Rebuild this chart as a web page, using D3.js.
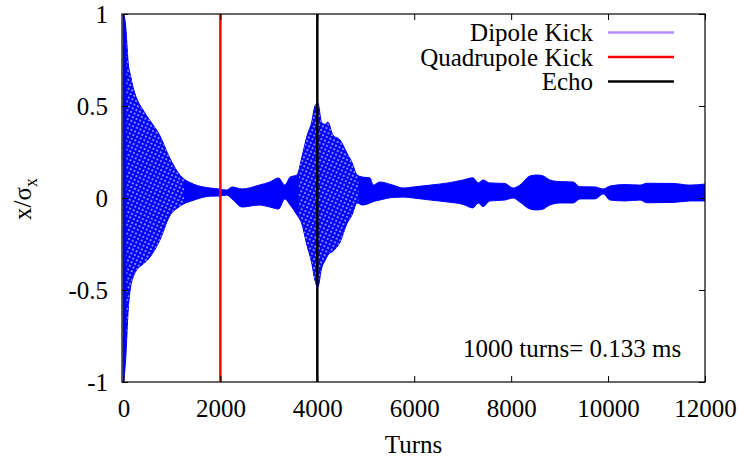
<!DOCTYPE html>
<html>
<head>
<meta charset="utf-8">
<script src="https://cdn.jsdelivr.net/npm/d3@7/dist/d3.min.js"></script>
<style>
  html, body { margin: 0; padding: 0; background: #fff; }
  svg { display: block; }
</style>
</head>
<body>
<svg id="chart" width="739" height="458"></svg>
<script>
// Turn-by-turn centroid envelope (x / sigma_x): upper and lower extent of the
// oscillation at each sampled turn.
const turns = [0, 40, 100, 150, 200, 275, 400, 550, 750, 950, 1150, 1450, 1800, 2000,
  2130, 2240, 2450, 2800, 3020, 3200, 3330, 3440, 3580, 3680, 3780, 3890, 3950, 4010,
  4090, 4160, 4220, 4320, 4470, 4610, 4720, 4820, 4930, 5090, 5150, 5290, 5560, 5770,
  5980, 6330, 6700, 7010, 7210, 7320, 7420, 7560, 7870, 8040, 8180, 8390, 8530, 8660,
  8800, 9010, 9280, 9420, 9730, 9900, 10040, 10350, 10660, 10800, 11340, 11690, 12000];
const upper = [1.0, 0.95, 0.73, 0.66, 0.6, 0.54, 0.48, 0.42, 0.34, 0.22, 0.13, 0.075, 0.054, 0.048,
  0.043, 0.06, 0.049, 0.07, 0.087, 0.109, 0.07, 0.114, 0.125, 0.22, 0.33, 0.42, 0.5, 0.518,
  0.41, 0.4, 0.413, 0.342, 0.315, 0.245, 0.19, 0.125, 0.114, 0.109, 0.07, 0.087, 0.07, 0.054,
  0.06, 0.07, 0.082, 0.098, 0.11, 0.082, 0.098, 0.082, 0.079, 0.054, 0.07, 0.12, 0.125, 0.12,
  0.098, 0.089, 0.087, 0.061, 0.06, 0.049, 0.065, 0.073, 0.07, 0.08, 0.079, 0.07, 0.076];
const lower = [-1.0, -0.9, -0.6, -0.48, -0.43, -0.39, -0.36, -0.32, -0.23, -0.1, -0.047, -0.012, 0.01, 0.011,
  0.016, -0.005, -0.049, -0.038, -0.049, -0.06, -0.005, -0.038, -0.092, -0.14, -0.25, -0.36, -0.446, -0.484,
  -0.38, -0.34, -0.31, -0.29, -0.24, -0.14, -0.09, -0.027, -0.038, -0.027, -0.02, -0.011, 0.003, 0.005,
  0, -0.011, -0.022, -0.035, -0.054, -0.027, -0.047, -0.016, -0.011, 0, -0.022, -0.06, -0.065, -0.06,
  -0.038, -0.027, -0.027, -0.005, -0.005, 0.022, -0.011, -0.016, -0.011, -0.026, -0.024, -0.016, -0.016];

// Turn ranges of the large decoherence / echo lobes
const lobeStart = [60, 3620];
const lobeEnd = [1250, 4850];

// Kick / echo markers
const markerNames = ["Dipole Kick", "Quadrupole Kick", "Echo"];
const markerTurns = [0, 2000, 4000];
const markerColors = ["#b48cff", "#ff0000", "#000000"];

// Axis ticks
const xTicks = [0, 2000, 4000, 6000, 8000, 10000, 12000];
const yTicks = [-1, -0.5, 0, 0.5, 1];
const yTickLabels = ["-1", "-0.5", "0", "0.5", "1"];

const note = "1000 turns= 0.133 ms";

const FONT = "'Liberation Serif', 'DejaVu Serif', serif";
const fontSize = 25;
const BLUE = "#0000ff";

const svg = d3.select("#chart").style("font-family", FONT);
const plotL = 122, plotR = 705, plotT = 14, plotB = 382;

const x = d3.scaleLinear().domain([-30, 12000]).range([plotL, plotR]);
const y = d3.scaleLinear().domain([-1, 1]).range([plotB, plotT]);

const defs = svg.append("defs");
defs.append("clipPath").attr("id", "plotclip")
  .append("rect").attr("x", plotL).attr("y", plotT)
  .attr("width", plotR - plotL).attr("height", plotB - plotT);

// Speckled fill: the point cloud of the large lobes leaves small gaps
const pat = defs.append("pattern").attr("id", "speckle")
  .attr("patternUnits", "userSpaceOnUse").attr("width", 4).attr("height", 4)
  .attr("patternTransform", "rotate(25)");
pat.append("rect").attr("width", 4).attr("height", 4).attr("fill", BLUE);
pat.append("circle").attr("cx", 2).attr("cy", 2).attr("r", 0.85).attr("fill", "#fff");

const lobeClip = defs.append("clipPath").attr("id", "lobeclip");
lobeStart.forEach((s, i) => {
  lobeClip.append("rect").attr("x", x(s)).attr("y", plotT)
    .attr("width", x(lobeEnd[i]) - x(s)).attr("height", plotB - plotT);
});

const plot = svg.append("g").attr("clip-path", "url(#plotclip)");

const markerLine = i => plot.append("line")
  .attr("x1", x(markerTurns[i])).attr("x2", x(markerTurns[i]))
  .attr("y1", plotT).attr("y2", plotB)
  .attr("stroke", markerColors[i]).attr("stroke-width", 2.5);

// dipole marker sits under the signal
markerLine(0);

const env = turns.map((t, i) => ({ t, hi: upper[i], lo: lower[i] }));
const area = d3.area()
  .x(d => x(d.t))
  .y0(d => y(d.lo))
  .y1(d => y(d.hi))
  .curve(d3.curveMonotoneX);

plot.append("path")
  .datum(env)
  .attr("d", area)
  .attr("fill", BLUE)
  .attr("stroke", BLUE)
  .attr("stroke-width", 1)
  .attr("stroke-linejoin", "round");

plot.append("g").attr("clip-path", "url(#lobeclip)")
  .append("path")
  .datum(env)
  .attr("d", area)
  .attr("fill", "url(#speckle)")
  .attr("stroke", "none");

markerLine(1);
markerLine(2);

// Axes with inward ticks on all four sides
const gx = svg.append("g").attr("transform", `translate(0,${plotB})`)
  .call(d3.axisBottom(x).tickValues(xTicks).tickSizeInner(-6).tickSizeOuter(0).tickPadding(18)
    .tickFormat(d3.format("d")));
const gxTop = svg.append("g").attr("transform", `translate(0,${plotT})`)
  .call(d3.axisTop(x).tickValues(xTicks).tickSizeInner(-6).tickSizeOuter(0).tickFormat(""));
const gy = svg.append("g").attr("transform", `translate(${plotL},0)`)
  .call(d3.axisLeft(y).tickValues(yTicks).tickSizeInner(-6).tickSizeOuter(0).tickPadding(14)
    .tickFormat((d, i) => yTickLabels[i]));
const gyRight = svg.append("g").attr("transform", `translate(${plotR},0)`)
  .call(d3.axisRight(y).tickValues(yTicks).tickSizeInner(-6).tickSizeOuter(0).tickFormat(""));

[gx, gxTop, gy, gyRight].forEach(g => {
  g.attr("font-family", FONT).attr("font-size", fontSize);
  g.select(".domain").remove();
  g.selectAll(".tick line").attr("stroke", "#000").attr("stroke-width", 1);
  g.selectAll("text").style("font-family", FONT).attr("font-size", fontSize).attr("fill", "#000");
});
gx.selectAll("text").attr("dy", "0.68em");
gy.selectAll("text").attr("dy", "0.34em");

// Frame
svg.append("rect")
  .attr("x", plotL).attr("y", plotT)
  .attr("width", plotR - plotL).attr("height", plotB - plotT)
  .attr("fill", "none").attr("stroke", "#000").attr("stroke-width", 1.2);

const addText = (sel) => sel.append("text")
  .style("font-family", FONT).attr("font-size", fontSize).attr("fill", "#000");

// Axis titles
addText(svg)
  .attr("x", (plotL + plotR) / 2).attr("y", 453)
  .attr("text-anchor", "middle")
  .text("Turns");

const ylab = addText(svg)
  .attr("transform", "translate(31,199) rotate(-90)")
  .attr("text-anchor", "middle");
ylab.append("tspan").text("x/σ");
ylab.append("tspan").attr("font-size", 18).attr("dy", 6).text("x");

// Legend
const legend = svg.append("g");
markerNames.forEach((name, i) => {
  const yy = 41 + i * 24.5;
  addText(legend)
    .attr("x", 593).attr("y", yy)
    .attr("text-anchor", "end")
    .text(name);
  legend.append("line")
    .attr("x1", 608).attr("x2", 674)
    .attr("y1", yy - 8.5).attr("y2", yy - 8.5)
    .attr("stroke", markerColors[i]).attr("stroke-width", 2.5);
});

// Time-scale note
addText(svg)
  .attr("x", 463).attr("y", 357)
  .text(note);
</script>
</body>
</html>
